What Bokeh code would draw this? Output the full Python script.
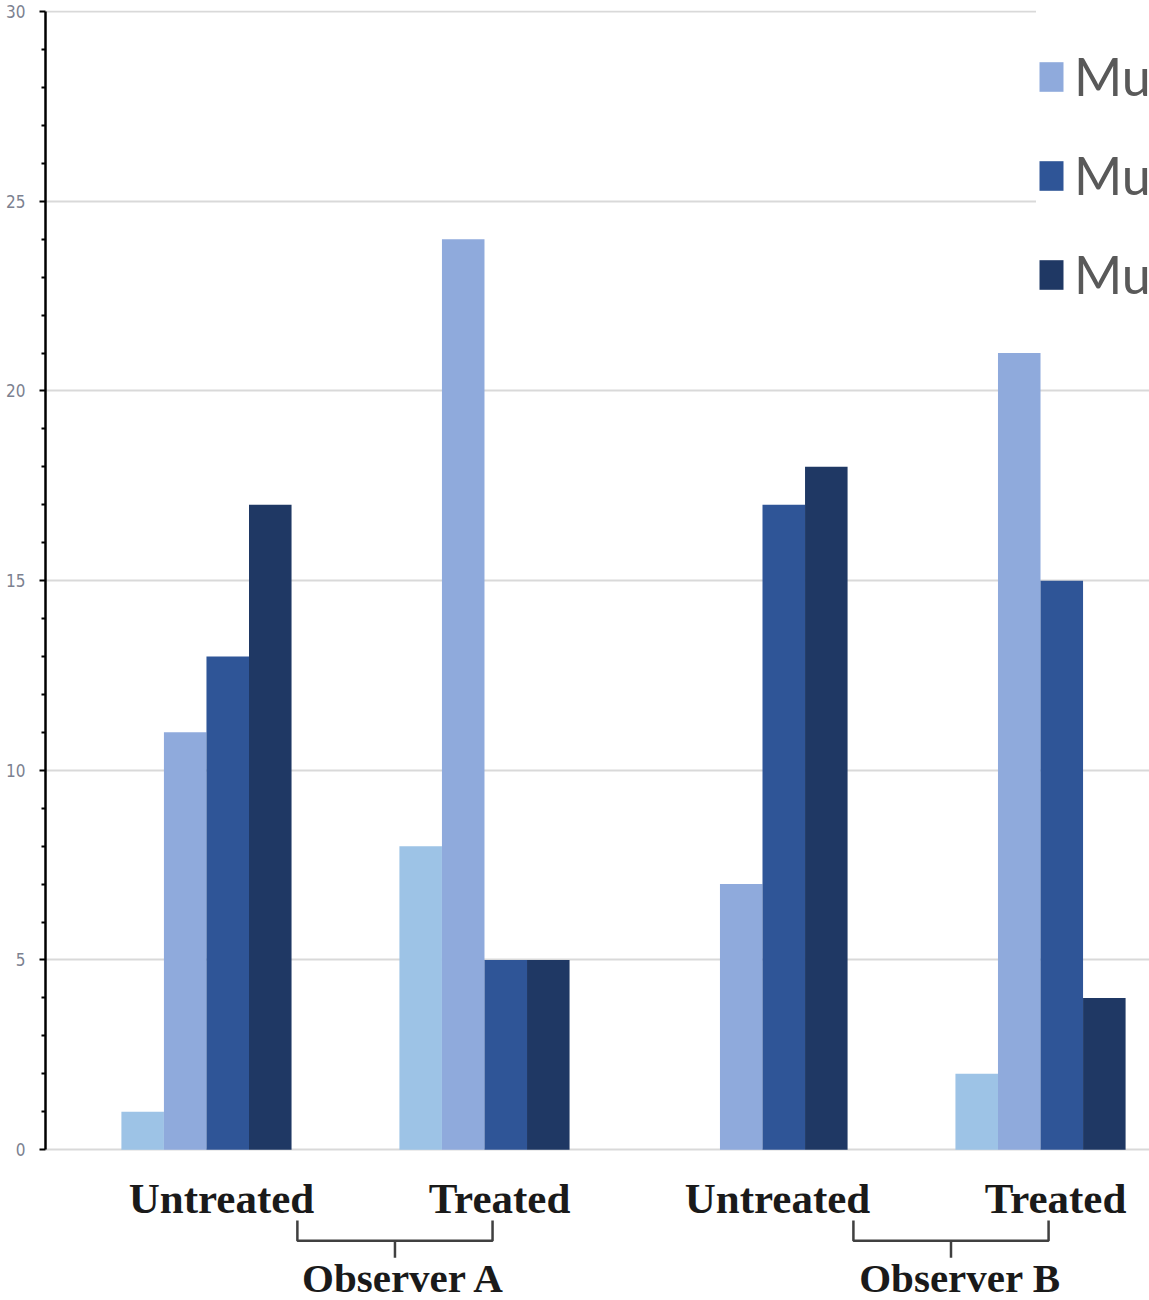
import numpy as np
from bokeh.plotting import figure
from bokeh.models import Range1d, FixedTicker, Legend, LegendItem, Label, ColumnDataSource
from bokeh.core.properties import value
from bokeh.embed import file_html
from bokeh.resources import INLINE

# Categories
conditions = ["Untreated", "Treated", "Untreated", "Treated"]
observers = ["Observer A", "Observer B"]
series_names = ["Mucosal score 0", "Mucosal score 1", "Mucosal score 2", "Mucosal score 3"]

# Number of cases per condition, one list per score
score0 = [1, 8, 0, 2]
score1 = [11, 24, 7, 21]
score2 = [13, 5, 17, 15]
score3 = [17, 5, 18, 4]

colors = ["#9DC3E6", "#8FAADC", "#2F5597", "#1F3864"]
y_ticks = [0, 5, 10, 15, 20, 25, 30]
y_minor = [v for v in range(0, 31) if v % 5]

group_x = np.arange(len(conditions), dtype=float)
bar_w = 0.153

X0, X1 = -0.579, 3.392
Y0, Y1 = -3.977, 30.03
PX_PER_X = 1104 / (X1 - X0)

p = figure(width=1149, height=1300, output_backend="svg", toolbar_location=None,
           x_range=Range1d(X0, X1), y_range=Range1d(Y0, Y1),
           x_axis_location=None,
           min_border_left=45, min_border_right=0, min_border_top=10, min_border_bottom=0)
p.outline_line_color = None
p.background_fill_color = "white"
p.border_fill_color = "white"

# y axis: only spans 0..30
ax = p.yaxis[0]
ax.ticker = FixedTicker(ticks=y_ticks, minor_ticks=y_minor)
ax.bounds = (0, 30)
ax.axis_line_color = "black"
ax.axis_line_width = 2.5
ax.major_tick_line_color = "black"
ax.major_tick_line_width = 2
ax.major_tick_out = 6
ax.major_tick_in = 0
ax.minor_tick_line_color = "black"
ax.minor_tick_line_width = 2
ax.minor_tick_out = 4
ax.minor_tick_in = 0
ax.major_label_standoff = 14
ax.major_label_text_font = "'Liberation Sans Narrow', 'DejaVu Sans Condensed', 'Roboto Condensed', sans-serif"
ax.major_label_text_font_size = "17px"
ax.major_label_text_color = "#7c8190"

p.xgrid.visible = False
p.ygrid.ticker = FixedTicker(ticks=y_ticks)
p.ygrid.grid_line_color = "#D9D9D9"
p.ygrid.grid_line_width = 2

# Bars
renderers = []
for i, (vals, c) in enumerate(zip([score0, score1, score2, score3], colors)):
    src = ColumnDataSource(dict(x=group_x + (i - 1.5) * bar_w, top=vals))
    r = p.vbar(x="x", top="top", bottom=0, width=bar_w, source=src,
               fill_color=c, line_color=None)
    renderers.append(r)

# Condition labels under each group
LABEL_Y = -1.29
p.text(x=group_x, y=[LABEL_Y] * len(group_x), text=conditions, x_offset=15,
       text_align="center", text_baseline="alphabetic",
       text_font=value("Liberation Serif"), text_font_style="bold",
       text_font_size="43px", text_color="#1a1a1a")

# Brackets joining the two conditions of each observer
BR_TOP, BR_MID, BR_BOT = -1.87, -2.40, -2.85
xs, ys, mids = [], [], []
for k in range(len(observers)):
    left = group_x[2 * k] + 0.327
    right = group_x[2 * k + 1] + 0.029
    mid = (left + right) / 2
    mids.append(mid)
    xs.append([left, left, right, right])
    ys.append([BR_TOP, BR_MID, BR_MID, BR_TOP])
    xs.append([mid, mid])
    ys.append([BR_MID, BR_BOT])
p.multi_line(xs=xs, ys=ys, line_color="#404040", line_width=2.5)

OBS_Y = -3.38
p.text(x=mids, y=[OBS_Y] * len(mids), text=observers, x_offset=9,
       text_align="center", text_baseline="alphabetic",
       text_font=value("Liberation Serif"), text_font_style="bold",
       text_font_size="41px", text_color="#1a1a1a")

# Legend
legend = Legend(items=[LegendItem(label=n, renderers=[r]) for n, r in zip(series_names, renderers)],
                location=(991, 995), orientation="vertical",
                glyph_width=30, glyph_height=37, label_height=60, spacing=37,
                padding=10, margin=0, label_standoff=8,
                label_text_font="Lato", label_text_font_size="52px",
                label_text_color="#595959",
                border_line_color=None, background_fill_color="white",
                background_fill_alpha=1.0)
p.add_layout(legend)

# Axis title, mostly outside the page on the left
title = Label(x=X0 - 42 / PX_PER_X, y=14.9, x_units="data", y_units="data",
              text="Number of Cases", angle=np.pi / 2,
              text_align="center", text_baseline="alphabetic",
              text_font="Liberation Sans", text_font_style="bold",
              text_font_size="46px", text_color="#111111")
p.add_layout(title)

open("out.html", "w").write(file_html(p, INLINE))
